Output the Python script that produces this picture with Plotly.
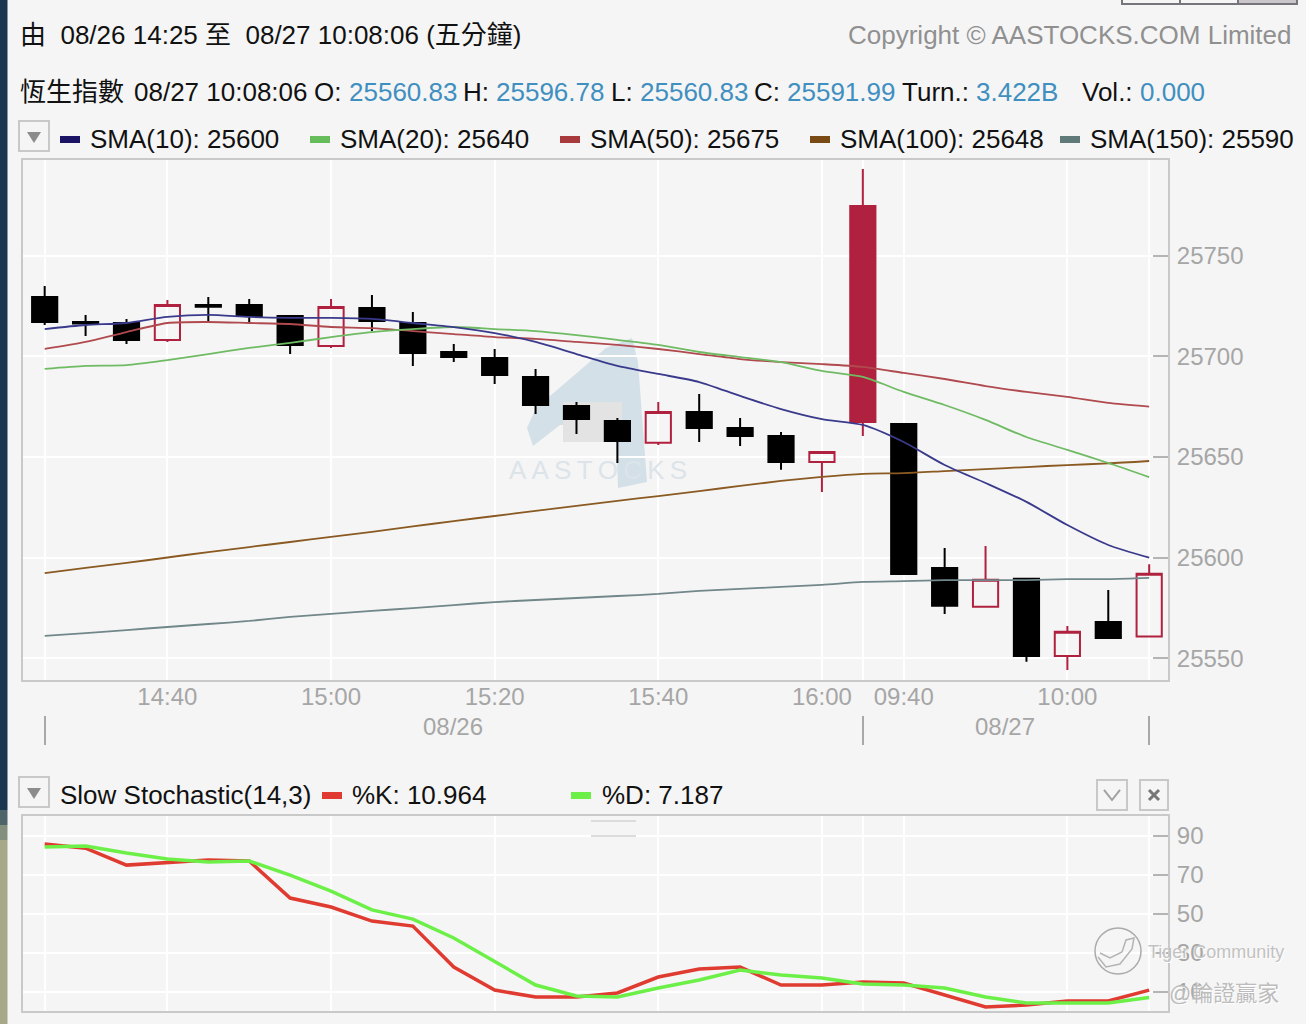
# hsi_5min.py
import plotly.graph_objects as go

W, H = 1306, 1024
FONT = "Liberation Sans, Noto Sans CJK TC, Arial, sans-serif"
BG = "#f5f5f5"
GREY = "#a6a6a6"
RED = "#b0213f"

# --- data ---
idx = list(range(28))
opens = [25729.4, 25717.0, 25716.5, 25708.1, 25725.4, 25725.4, 25720.0, 25705.1, 25724.0, 25716.5,
         25702.1, 25699.1, 25689.7, 25675.3, 25667.9, 25657.0, 25672.3, 25664.4, 25660.4, 25647.5,
         25667.4, 25666.4, 25594.9, 25575.6, 25589.5, 25551.2, 25568.1, 25560.83]
highs = [25734.9, 25720.5, 25718.5, 25727.9, 25729.4, 25728.4, 25720.5, 25728.4, 25730.4, 25722.0,
         25706.1, 25703.6, 25693.7, 25677.3, 25669.4, 25677.3, 25681.3, 25669.4, 25662.4, 25652.5,
         25792.9, 25666.4, 25604.8, 25605.8, 25589.5, 25566.1, 25584.0, 25596.78]
lows = [25715.5, 25710.1, 25706.1, 25707.1, 25717.5, 25716.5, 25701.1, 25704.1, 25712.5, 25695.2,
        25697.2, 25686.2, 25671.3, 25661.4, 25647.0, 25656.0, 25657.4, 25655.5, 25643.6, 25632.6,
        25660.4, 25591.9, 25572.1, 25575.6, 25548.3, 25544.3, 25560.2, 25560.83]
closes = [25717.0, 25716.3, 25708.1, 25725.4, 25724.6, 25720.0, 25705.6, 25724.4, 25717.5, 25701.6,
          25699.6, 25690.7, 25675.8, 25668.9, 25657.9, 25672.3, 25664.4, 25660.4, 25647.5, 25652.5,
          25774.6, 25591.9, 25576.1, 25589.0, 25551.2, 25563.2, 25560.2, 25591.99]

sma10 = [25713.5, 25715.5, 25716.5, 25719.5, 25720.5, 25719.5, 25719.0, 25719.0, 25718.5, 25716.5,
         25714.5, 25711.5, 25707.1, 25701.1, 25695.2, 25691.2, 25687.2, 25680.3, 25673.8, 25668.8,
         25665.9, 25657.4, 25646.0, 25637.1, 25627.7, 25616.2, 25606.3, 25600.0]
sma20 = [25693.7, 25695.2, 25695.6, 25698.1, 25701.1, 25704.1, 25706.6, 25709.5, 25712.0, 25713.5,
         25714.5, 25713.5, 25712.5, 25710.5, 25708.1, 25705.6, 25702.1, 25699.6, 25697.1, 25692.7,
         25689.7, 25682.3, 25675.8, 25668.4, 25659.9, 25653.5, 25647.0, 25640.0]
sma50 = [25703.6, 25707.1, 25712.0, 25716.5, 25717.0, 25716.5, 25716.0, 25714.5, 25714.0, 25712.5,
         25711.0, 25709.5, 25708.6, 25707.1, 25705.6, 25703.6, 25701.1, 25698.6, 25697.1, 25696.1,
         25694.7, 25691.7, 25688.7, 25685.2, 25682.3, 25679.8, 25676.8, 25675.0]
sma100 = [25592.4, 25594.9, 25597.4, 25600.1, 25602.8, 25605.3, 25607.8, 25610.3, 25612.8, 25615.5,
          25618.2, 25620.7, 25623.2, 25625.7, 25628.2, 25630.6, 25633.1, 25635.6, 25638.1, 25640.1,
          25641.6, 25642.0, 25643.0, 25644.0, 25645.0, 25646.0, 25646.8, 25648.0]
sma150 = [25561.2, 25562.6, 25564.1, 25565.6, 25567.1, 25568.6, 25570.6, 25572.1, 25573.6, 25575.0,
          25576.5, 25578.0, 25579.0, 25580.0, 25581.0, 25582.0, 25583.5, 25584.5, 25585.5, 25586.5,
          25588.0, 25588.4, 25588.9, 25588.9, 25588.9, 25589.4, 25589.4, 25590.0]

pct_k = [85.9, 83.8, 75.1, 76.2, 77.7, 77.2, 58.2, 53.6, 46.4, 43.8, 22.8, 11.0, 7.4, 7.4,
         9.5, 17.7, 21.8, 22.8, 13.6, 13.6, 15.1, 14.6, 8.5, 2.3, 3.3, 5.4, 5.4, 10.964]
pct_d = [84.4, 84.9, 81.3, 78.2, 76.7, 77.2, 70.0, 61.8, 52.1, 47.4, 37.7, 25.4, 13.6, 8.0,
         7.4, 12.1, 16.2, 21.3, 18.7, 17.2, 14.1, 13.6, 12.1, 7.4, 4.4, 4.4, 4.4, 7.187]

x_ticks = [0, 3, 7, 11, 15, 19, 20, 21, 25, 27]
x_labels = ["", "14:40", "15:00", "15:20", "15:40", "16:00", "", "09:40", "10:00", ""]
price_ticks = [25550, 25600, 25650, 25700, 25750]
stoch_ticks = [10, 30, 50, 70, 90]


# --- pixel helpers for the page furniture ---
def px(x):
    return x / W


def py(y):
    return 1 - y / H


shapes = []
annotations = []


def rect(x0, y0, x1, y1, fill=None, line=None, width=1.5, layer="above"):
    shapes.append(dict(type="rect", xref="paper", yref="paper", x0=px(x0), x1=px(x1), y0=py(y0), y1=py(y1),
                       fillcolor=fill or "rgba(0,0,0,0)", line=dict(color=line or "rgba(0,0,0,0)", width=width if line else 0),
                       layer=layer))


def seg(x0, y0, x1, y1, color=GREY, width=2, layer="above"):
    shapes.append(dict(type="line", xref="paper", yref="paper", x0=px(x0), x1=px(x1), y0=py(y0), y1=py(y1),
                       line=dict(color=color, width=width), layer=layer))


def poly(points, fill=None, line=None, width=1.5, layer="above"):
    path = "M " + " L ".join(f"{px(a):.5f} {py(b):.5f}" for a, b in points) + (" Z" if fill else "")
    shapes.append(dict(type="path", xref="paper", yref="paper", path=path,
                       fillcolor=fill or "rgba(0,0,0,0)", line=dict(color=line or "rgba(0,0,0,0)", width=width if line else 0),
                       layer=layer))


def label(x, y, text, color="#111111", size=26, anchor="left", **font_extra):
    annotations.append(dict(xref="paper", yref="paper", x=px(x), y=py(y), text=text, showarrow=False,
                            xanchor=anchor, yanchor="middle", borderpad=0,
                            font=dict(family=FONT, size=size, color=color, **font_extra)))


# --- figure ---
fig = go.Figure()

# watermark logo sits under the candles
poly([(527, 428), (536, 408), (606, 348), (632, 338), (638, 362), (647, 482), (618, 488), (616, 425), (560, 425), (533, 446)],
     fill="#d3e0e8", layer="below")
rect(563, 402, 622, 442, fill="#e3e3e3", layer="below")

# candles: the hollow reds, the blacks and the one solid red bar
plain = [i for i in idx if i != 20]
fig.add_trace(go.Candlestick(
    x=plain, open=[opens[i] for i in plain], high=[highs[i] for i in plain],
    low=[lows[i] for i in plain], close=[closes[i] for i in plain],
    increasing=dict(line=dict(color=RED, width=2), fillcolor="rgba(0,0,0,0)"),
    decreasing=dict(line=dict(color="#000000", width=2), fillcolor="#000000"),
    whiskerwidth=0, showlegend=False, xaxis="x", yaxis="y"))
fig.add_trace(go.Candlestick(
    x=[20], open=[opens[20]], high=[highs[20]], low=[lows[20]], close=[closes[20]],
    increasing=dict(line=dict(color=RED, width=2), fillcolor=RED),
    whiskerwidth=0, showlegend=False, xaxis="x", yaxis="y"))

sma_lines = [
    ("SMA(150)", sma150, "#71878a"),
    ("SMA(100)", sma100, "#8a5a22"),
    ("SMA(50)", sma50, "#b04a4e"),
    ("SMA(20)", sma20, "#6fbb63"),
    ("SMA(10)", sma10, "#3a3a8c"),
]
for name, vals, color in sma_lines:
    fig.add_trace(go.Scatter(x=idx, y=vals, mode="lines", name=name,
                             line=dict(color=color, width=1.8, shape="spline", smoothing=0.7),
                             showlegend=False, xaxis="x", yaxis="y"))

fig.add_trace(go.Scatter(x=idx, y=pct_k, mode="lines", name="%K", line=dict(color="#df3b30", width=3.5),
                         showlegend=False, xaxis="x2", yaxis="y2"))
fig.add_trace(go.Scatter(x=idx, y=pct_d, mode="lines", name="%D", line=dict(color="#6cf048", width=3.5),
                         showlegend=False, xaxis="x2", yaxis="y2"))

# --- header text ---
label(19, 35, "由  08/26 14:25 至  08/27 10:08:06 (五分鐘)")
label(1293, 35, "Copyright © AASTOCKS.COM Limited", color="#909090", anchor="right")

BLUE = "#3f8fc0"
quote_row = [
    (19, "恆生指數", "#111111"), (133, "08/27 10:08:06", "#111111"),
    (313, "O:", "#111111"), (348, "25560.83", BLUE),
    (462, "H:", "#111111"), (495, "25596.78", BLUE),
    (610, "L:", "#111111"), (639, "25560.83", BLUE),
    (753, "C:", "#111111"), (786, "25591.99", BLUE),
    (901, "Turn.:", "#111111"), (975, "3.422B", BLUE),
    (1081, "Vol.:", "#111111"), (1139, "0.000", BLUE),
]
for x, text, color in quote_row:
    label(x, 92, text, color=color)

legend_row = [
    (60, "#1b1464", "SMA(10): 25600"),
    (310, "#66bb5a", "SMA(20): 25640"),
    (560, "#a83a3e", "SMA(50): 25675"),
    (810, "#7a4a14", "SMA(100): 25648"),
    (1060, "#5f7a78", "SMA(150): 25590"),
]
for x, color, text in legend_row:
    rect(x, 136, x + 20, 143, fill=color)
    label(x + 29, 139, text)

label(59, 795, "Slow Stochastic(14,3)")
rect(322, 792, 342, 799, fill="#df3b30")
label(351, 795, "%K: 10.964")
rect(571, 792, 591, 799, fill="#6cf048")
label(601, 795, "%D: 7.187")

# --- date row under the price panel ---
label(453, 726, "08/26", color=GREY, size=24, anchor="center")
label(1005, 726, "08/27", color=GREY, size=24, anchor="center")
for x in [45, 863, 1149]:
    seg(x, 716, x, 745, color="#a8a8a8", width=2)

# --- buttons and handles ---
for y0 in [121, 777]:
    rect(19, y0, 49, y0 + 30, fill=BG, line="#c8c8c8", width=2)
    poly([(27, y0 + 11), (41, y0 + 11), (34, y0 + 22)], fill="#8c8c8c")
rect(1097, 780, 1127, 810, fill=BG, line="#c8c8c8", width=2)
poly([(1104, 790), (1112, 800), (1120, 790)], line="#a0a0a0", width=2)
rect(1140, 780, 1168, 810, fill=BG, line="#c8c8c8", width=2)
seg(1149, 790, 1159, 800, color="#777777", width=3)
seg(1159, 790, 1149, 800, color="#777777", width=3)
seg(591, 821, 636, 821, color="#dcdcdc", width=2)
seg(591, 836, 636, 836, color="#dcdcdc", width=2)

# toolbar edge at the top right and window edge on the left
rect(1122, -6, 1297, 4, fill="#f5f5f5", line="#77757c", width=2)
rect(1239, -4, 1296, 3, fill="#c9c5cb")
seg(1180, 0, 1180, 4, color="#77757c", width=2)
seg(1238, 0, 1238, 4, color="#77757c", width=2)
rect(0, 0, 7.5, 810, fill="#1d3650")
rect(0, 810, 7.5, 825, fill="#4e6468")
rect(0, 825, 7.5, 840, fill="#83907e")
rect(0, 840, 7.5, 1024, fill="#a7a888")

# --- other watermarks ---
label(598, 470, "A\u2009A\u2009S\u2009T\u2009O\u2009C\u2009K\u2009S", color="#dce4ea", size=26, anchor="center")
shapes.append(dict(type="circle", xref="paper", yref="paper", x0=px(1095), x1=px(1141), y0=py(974), y1=py(928),
                   line=dict(color="#ababab", width=1.5), layer="above"))
poly([(1098, 957), (1106, 967), (1120, 964), (1132, 949), (1134, 938), (1126, 940), (1122, 952), (1110, 958), (1100, 953)],
     line="#b4b4b4", width=1.5)
label(1147, 952, "Tiger Community", color="#c2c2c2", size=18, shadow="1px 1px 0 #ffffff")
label(1168, 993, "@輪證贏家", color="#bcbcbc", size=22, shadow="1px 1px 0 #ffffff")

# --- axes ---
grid = dict(showgrid=True, gridcolor="#ffffff", gridwidth=1.5, zeroline=False,
            showline=True, mirror=True, linecolor="#c9c9c9", linewidth=2)
x_common = dict(range=[-0.53, 27.46], tickmode="array", tickvals=x_ticks, **grid)
y_font = dict(family=FONT, size=24, color=GREY)

fig.update_layout(
    width=W, height=H, autosize=False,
    margin=dict(l=0, r=0, t=0, b=0),
    paper_bgcolor=BG, plot_bgcolor=BG,
    hovermode=False,
    boxgap=0.12,
    xaxis=dict(domain=[px(23), px(1168)], anchor="y", ticktext=x_labels, ticks="", ticklabelstandoff=-6,
               tickfont=y_font, rangeslider=dict(visible=False), **x_common),
    yaxis=dict(domain=[py(680), py(160)], anchor="x", side="right", range=[25539.3, 25797.4],
               tickmode="array", tickvals=price_ticks, ticktext=[str(t) for t in price_ticks],
               ticks="inside", ticklen=15, tickwidth=2, tickcolor="#b4b4b4", tickfont=y_font,
               ticklabelstandoff=2, **grid),
    xaxis2=dict(domain=[px(23), px(1168)], anchor="y2", showticklabels=False, ticks="", **x_common),
    yaxis2=dict(domain=[py(1011), py(816)], anchor="x2", side="right", range=[0.26, 100.3],
                tickmode="array", tickvals=stoch_ticks, ticktext=[str(t) for t in stoch_ticks],
                ticks="inside", ticklen=15, tickwidth=2, tickcolor="#b4b4b4", tickfont=y_font,
                ticklabelstandoff=2, **grid),
    shapes=shapes,
    annotations=annotations,
)

fig.write_html("out.html", config=dict(displayModeBar=False),
               post_script="document.body.style.margin='0';document.body.style.overflow='hidden';")
